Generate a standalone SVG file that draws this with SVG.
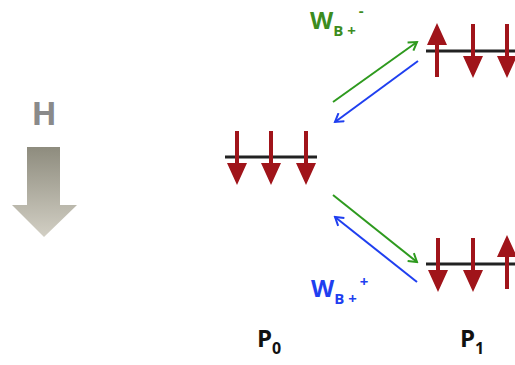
<svg xmlns="http://www.w3.org/2000/svg" width="515" height="365" viewBox="0 0 515 365">
<defs>
<linearGradient id="hg" x1="0" y1="0" x2="0" y2="1">
<stop offset="0" stop-color="#8e8c7e"/>
<stop offset="1" stop-color="#d2cfc4"/>
</linearGradient>
<marker id="ag" viewBox="0 0 12 12" refX="10" refY="6" markerWidth="12" markerHeight="12" markerUnits="userSpaceOnUse" orient="auto">
<path d="M2,1 L10,6 L2,11" fill="none" stroke="#2e9a1e" stroke-width="2"/>
</marker>
<marker id="ab" viewBox="0 0 12 12" refX="10" refY="6" markerWidth="12" markerHeight="12" markerUnits="userSpaceOnUse" orient="auto">
<path d="M2,1 L10,6 L2,11" fill="none" stroke="#1f3ff0" stroke-width="2"/>
</marker>
<path id="dn" d="M-2,0 H2 V32 L10,32 L0,54 L-10,32 L-2,32 Z" fill="#a0141a"/>
<path id="up" d="M-2,54 H2 V22 L10,22 L0,0 L-10,22 L-2,22 Z" fill="#a0141a"/>
</defs>
<style>
.lbl{font-family:"Open Sans","Liberation Sans",sans-serif;font-weight:bold}
.bar{stroke:#222;stroke-width:3}
.g{stroke:#2e9a1e;stroke-width:2;fill:none;marker-end:url(#ag)}
.b{stroke:#1f3ff0;stroke-width:2;fill:none;marker-end:url(#ab)}
</style>
<g id="field">
<text class="lbl" x="44" y="125" font-size="33" fill="#8a8a8a" text-anchor="middle">H</text>
<path d="M27,147 H60 V205 H77 L44,237 L12,205 H27 Z" fill="url(#hg)"/>
</g>
<g id="P0">
<line class="bar" x1="225" y1="157" x2="317" y2="157"/>
<use href="#dn" x="237" y="131"/>
<use href="#dn" x="271" y="131"/>
<use href="#dn" x="306" y="131"/>
<text class="lbl" x="257" y="347" font-size="24" fill="#111">P<tspan font-size="16" dy="7">0</tspan></text>
</g>
<g id="P1top">
<line class="bar" x1="426" y1="51" x2="515" y2="51"/>
<use href="#up" x="437" y="23"/>
<use href="#dn" x="473" y="24"/>
<use href="#dn" x="507" y="24"/>
</g>
<g id="P1bottom">
<line class="bar" x1="426" y1="264" x2="515" y2="264"/>
<use href="#dn" x="438" y="238"/>
<use href="#dn" x="473" y="238"/>
<use href="#up" x="507" y="235"/>
<text class="lbl" x="460" y="347" font-size="24" fill="#111">P<tspan font-size="16" dy="7">1</tspan></text>
</g>
<g id="connectors">
<line class="g" x1="333" y1="102" x2="417" y2="42"/>
<line class="b" x1="418" y1="61" x2="335" y2="122"/>
<line class="g" x1="333" y1="195" x2="417" y2="262"/>
<line class="b" x1="417" y1="282" x2="335" y2="217"/>
</g>
<g id="labelTop">
<text class="lbl" x="310" y="29" font-size="24" fill="#3c8c1e">W<tspan font-size="15" dy="7">B +</tspan><tspan font-size="15" dx="3" dy="-20">-</tspan></text>
</g>
<g id="labelBottom">
<text class="lbl" x="311" y="297" font-size="24" fill="#1f3ff0">W<tspan font-size="15" dy="7">B +</tspan><tspan font-size="15" dx="3" dy="-17">+</tspan></text>
</g>
</svg>
